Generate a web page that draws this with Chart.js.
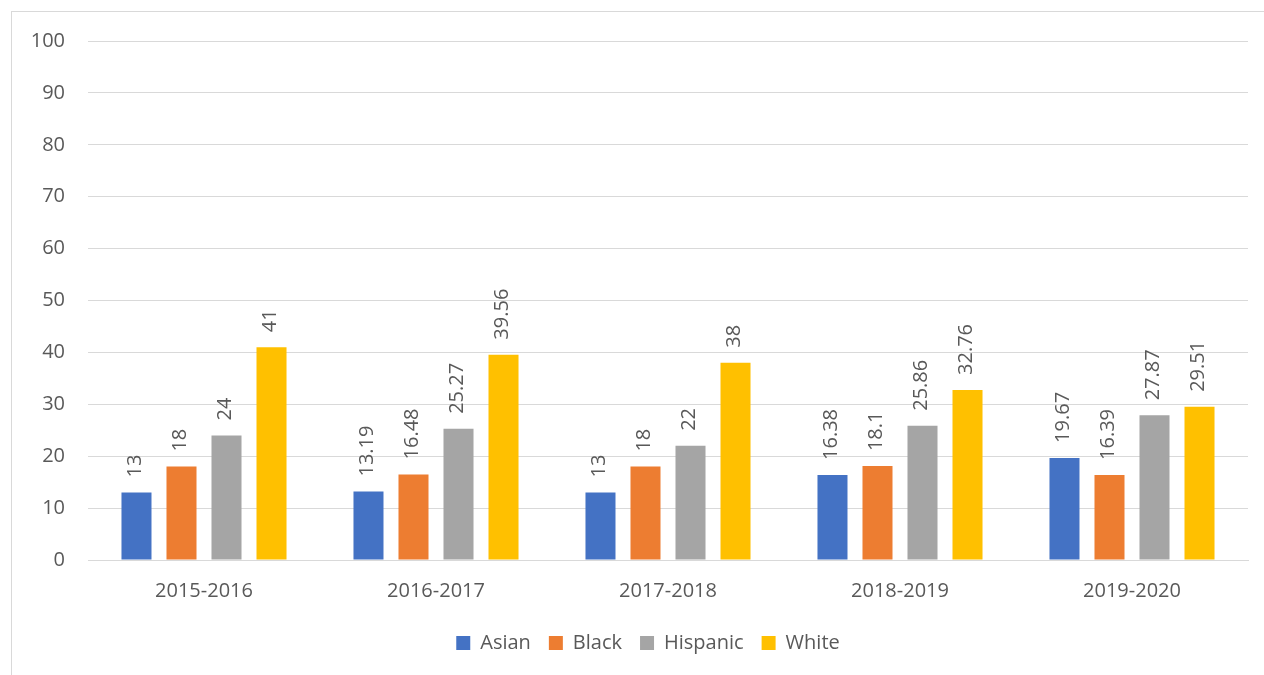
<!DOCTYPE html>
<html>
<head>
<meta charset="utf-8">
<script src="https://cdn.jsdelivr.net/npm/chart.js@4"></script>
<style>
  html, body { margin: 0; padding: 0; background: #fff; }
  #wrap { position: absolute; left: 0; top: 0; width: 1264px; height: 675px; }
  #frame { position: absolute; left: 11px; top: 11px; width: 1300px; height: 700px; border: 1px solid #d9d9d9; box-sizing: border-box; }
</style>
</head>
<body>
<div id="wrap">
  <div id="frame"></div>
  <canvas id="chart1" width="1264" height="675"></canvas>
</div>
<script>
const years = ['2015-2016', '2016-2017', '2017-2018', '2018-2019', '2019-2020'];
const asian = [13, 13.19, 13, 16.38, 19.67];
const black = [18, 16.48, 18, 18.1, 16.39];
const hispanic = [24, 25.27, 22, 25.86, 27.87];
const white = [41, 39.56, 38, 32.76, 29.51];

const textColor = '#595959';
const fontName = "'Open Sans', sans-serif";

// value labels, rotated, above each bar
const barLabels = {
  id: 'barLabels',
  afterDatasetsDraw(chart) {
    const ctx = chart.ctx;
    ctx.save();
    ctx.font = '20px ' + fontName;
    ctx.fillStyle = textColor;
    ctx.textAlign = 'left';
    ctx.textBaseline = 'middle';
    chart.data.datasets.forEach(function(ds, i) {
      chart.getDatasetMeta(i).data.forEach(function(bar, j) {
        ctx.save();
        ctx.translate(bar.x - 1, bar.y - 15);
        ctx.rotate(-Math.PI / 2);
        ctx.fillText(String(ds.data[j]), 0, 0);
        ctx.restore();
      });
    });
    ctx.restore();
  }
};

// the legend sits centred on the frame, a little right of the canvas centre
const legendShift = {
  id: 'legendShift',
  afterLayout(chart) {
    chart.legend.left += 24;
    chart.legend.right += 24;
  }
};

const ctx = document.getElementById('chart1').getContext('2d');
const chart1 = new Chart(ctx, {
  type: 'bar',
  data: {
    labels: years,
    datasets: [
      { label: 'Asian', data: asian, backgroundColor: '#4472C4' },
      { label: 'Black', data: black, backgroundColor: '#ED7D31' },
      { label: 'Hispanic', data: hispanic, backgroundColor: '#A5A5A5' },
      { label: 'White', data: white, backgroundColor: '#FFC000' }
    ]
  },
  options: {
    responsive: false,
    animation: false,
    categoryPercentage: 0.776,
    barPercentage: 0.667,
    layout: { padding: { top: 41, right: 16, left: 0, bottom: 12 } },
    plugins: {
      legend: {
        position: 'bottom',
        labels: {
          boxWidth: 14,
          boxHeight: 14,
          padding: 18,
          color: textColor,
          font: { family: fontName, size: 20 }
        }
      },
      tooltip: { enabled: false }
    },
    scales: {
      x: {
        grid: { display: false },
        border: { color: '#d9d9d9', width: 1 },
        ticks: { color: textColor, font: { family: fontName, size: 20 }, padding: 11 },
        afterFit(scale) { scale.height = 55; }
      },
      y: {
        min: 0,
        max: 100,
        ticks: { stepSize: 10, color: textColor, font: { family: fontName, size: 20 }, padding: 23 },
        grid: { color: '#d9d9d9', drawTicks: false },
        border: { display: false },
        afterFit(scale) { scale.width = 88; }
      }
    }
  },
  plugins: [barLabels, legendShift]
});
</script>
</body>
</html>
